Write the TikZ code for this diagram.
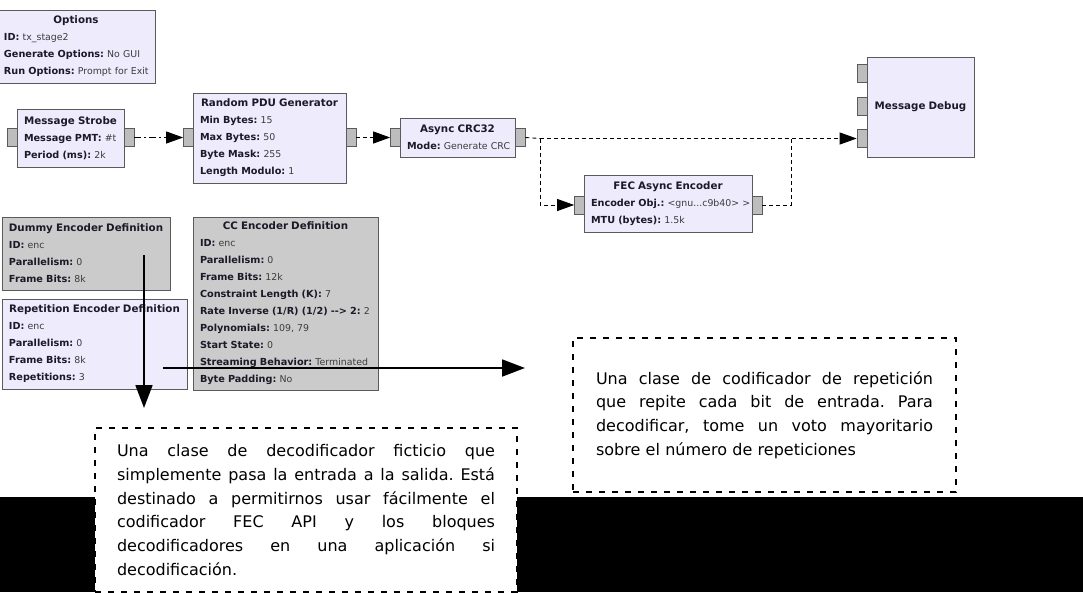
\documentclass[tikz,border=0pt]{standalone}
\usepackage{fontspec}
\usetikzlibrary{arrows.meta}
\newfontfamily\grc{DejaVu Sans}
\definecolor{lav}{HTML}{EEEBFD}
\definecolor{dis}{HTML}{CBCBCB}
\definecolor{bdr}{HTML}{5A5A5A}
\definecolor{portc}{HTML}{BDBDBD}
\definecolor{valc}{HTML}{3C3C3C}
\definecolor{labc}{HTML}{1A1A28}
\setlength{\parindent}{0pt}
\frenchspacing
\newcommand\ttl[1]{\makebox[\hsize][c]{\fontsize{10.3}{17}\selectfont\bfseries\color{labc}#1}}
\newcommand\lv[2]{\mbox{{\fontsize{9.7}{17}\selectfont\bfseries\color{labc}#1} {\color{valc}#2}}}
\newcommand\jl[1]{\leavevmode\hbox to\hsize{\spaceskip=0.318em plus 1fil\relax #1}}
\tikzset{
  block/.style={draw=bdr, fill=lav, line width=0.8pt, inner xsep=7pt, inner ysep=0pt,
    align=left, font=\grc\frenchspacing\fontsize{9.4}{17}\selectfont},
  disabled/.style={block, fill=dis},
  port/.style={draw=bdr, fill=portc, line width=0.7pt, minimum width=10pt, minimum height=18pt, inner sep=0pt},
  conn/.style={-{Triangle[length=17pt,width=12pt]}},
  dline/.style={line width=0.9pt, dash pattern=on 4pt off 3pt},
  dashdotline/.style={line width=0.9pt, dash pattern=on 7pt off 3pt on 2pt off 3pt},
  big/.style={line width=1.8pt, -{Triangle[length=23pt,width=17pt]}},
  cbox/.style={draw=black, line width=2pt, dash pattern=on 6pt off 7pt, inner sep=0pt,
    align=left, font=\grc\frenchspacing\fontsize{16}{23.8}\selectfont}
}
\begin{document}
\begin{tikzpicture}[x=1pt,y=-1pt]
\useasboundingbox (0,0) rectangle (1083,592);
\fill[white] (0,0) rectangle (1083,592);
\fill[black] (0,497) rectangle (1083,592);

% blocks
\node[block, text width=144pt, minimum height=73pt] (opt) at (76,46.5)
  {\ttl{Options}\\ \lv{ID:}{tx\_stage2}\\ \lv{Generate Options:}{No GUI}\\ \lv{Run Options:}{Prompt for Exit}};
\node[block, text width=93pt, minimum height=58pt] (ms) at (70.5,138)
  {\ttl{Message Strobe}\\ \lv{Message PMT:}{\#t}\\ \lv{Period (ms):}{2k}};
\node[block, text width=139pt, minimum height=90pt] (pdu) at (269.5,138)
  {\ttl{Random PDU Generator}\\ \lv{Min Bytes:}{15}\\ \lv{Max Bytes:}{50}\\ \lv{Byte Mask:}{255}\\ \lv{Length Modulo:}{1}};
\node[block, text width=101pt, minimum height=39pt] (crc) at (457.5,137.5)
  {\ttl{Async CRC32}\\ \lv{Mode:}{Generate CRC}};
\node[block, text width=154pt, minimum height=57pt] (fec) at (668,203.5)
  {\ttl{FEC Async Encoder}\\ \lv{Encoder Obj.:}{\textless gnu...c9b40\textgreater{} \textgreater}\\ \lv{MTU (bytes):}{1.5k}};
\node[block, text width=93pt, minimum height=100pt] (dbg) at (920.5,107)
  {\ttl{Message Debug}};
\node[disabled, text width=154pt, minimum height=73pt] (dummy) at (86,253.5)
  {\ttl{Dummy Encoder Definition}\\ \lv{ID:}{enc}\\ \lv{Parallelism:}{0}\\ \lv{Frame Bits:}{8k}};
\node[block, text width=171pt, minimum height=90pt] (rep) at (94.5,344)
  {\ttl{Repetition Encoder Definition}\\ \lv{ID:}{enc}\\ \lv{Parallelism:}{0}\\ \lv{Frame Bits:}{8k}\\ \lv{Repetitions:}{3}};
\node[disabled, text width=171pt, minimum height=173pt] (cc) at (285.5,303.5)
  {\ttl{CC Encoder Definition}\\ \lv{ID:}{enc}\\ \lv{Parallelism:}{0}\\ \lv{Frame Bits:}{12k}\\
   \lv{Constraint Length (K):}{7}\\ \lv{Rate Inverse (1/R) (1/2) -{}-\textgreater{} 2:}{2}\\
   \lv{Polynomials:}{109, 79}\\ \lv{Start State:}{0}\\ \lv{Streaming Behavior:}{Terminated}\\ \lv{Byte Padding:}{No}};

% ports
\node[port] (ms-in) at (12.5,137.5) {};
\node[port] (ms-out) at (129,137.5) {};
\node[port] (pdu-in) at (188.5,137.5) {};
\node[port] (pdu-out) at (351,137.5) {};
\node[port] (crc-in) at (395.5,137.5) {};
\node[port] (crc-out) at (520,137.5) {};
\node[port] (fec-in) at (579.5,205) {};
\node[port] (fec-out) at (757,205) {};
\node[port] (dbg1) at (862,73) {};
\node[port] (dbg2) at (862,106) {};
\node[port] (dbg3) at (862,138.5) {};

% connections
\coordinate (j1) at (540,138.5);
\coordinate (j2) at (791,138.5);
\draw[dashdotline, conn] (ms-out.east) -- (pdu-in.west);
\draw[dline, conn] (pdu-out.east) -- (crc-in.west);
\draw[dline] (crc-out.east) -- (j1);
\draw[dline, conn] (j1) -- (dbg3.west);
\draw[dline, conn] (j1) |- (fec-in.west);
\draw[dline] (fec-out.east) -| (j2);

% comments
\node[cbox, fill=white, text width=378pt, minimum width=422pt, minimum height=164pt] (c1) at (306,510)
  {\jl{Una clase de decodificador ficticio que}\\
   \jl{simplemente pasa la entrada a la salida. Está}\\
   \jl{destinado a permitirnos usar fácilmente el}\\
   \jl{codificador FEC API y los bloques}\\
   \jl{decodificadores en una aplicación si}\\
   decodificación.};
\node[cbox, text width=337pt, minimum width=383pt, minimum height=154pt] (c2) at (764.5,415)
  {\jl{Una clase de codificador de repetición}\\
   \jl{que repite cada bit de entrada. Para}\\
   \jl{decodificar, tome un voto mayoritario}\\
   sobre el número de repeticiones};

% annotation arrows
\coordinate (a1s) at (144,255);
\coordinate (a1e) at (144,408);
\coordinate (a2s) at (163,368);
\coordinate (a2e) at (525,368);
\draw[big] (a1s) -- (a1e);
\draw[big] (a2s) -- (a2e);
\end{tikzpicture}
\end{document}
